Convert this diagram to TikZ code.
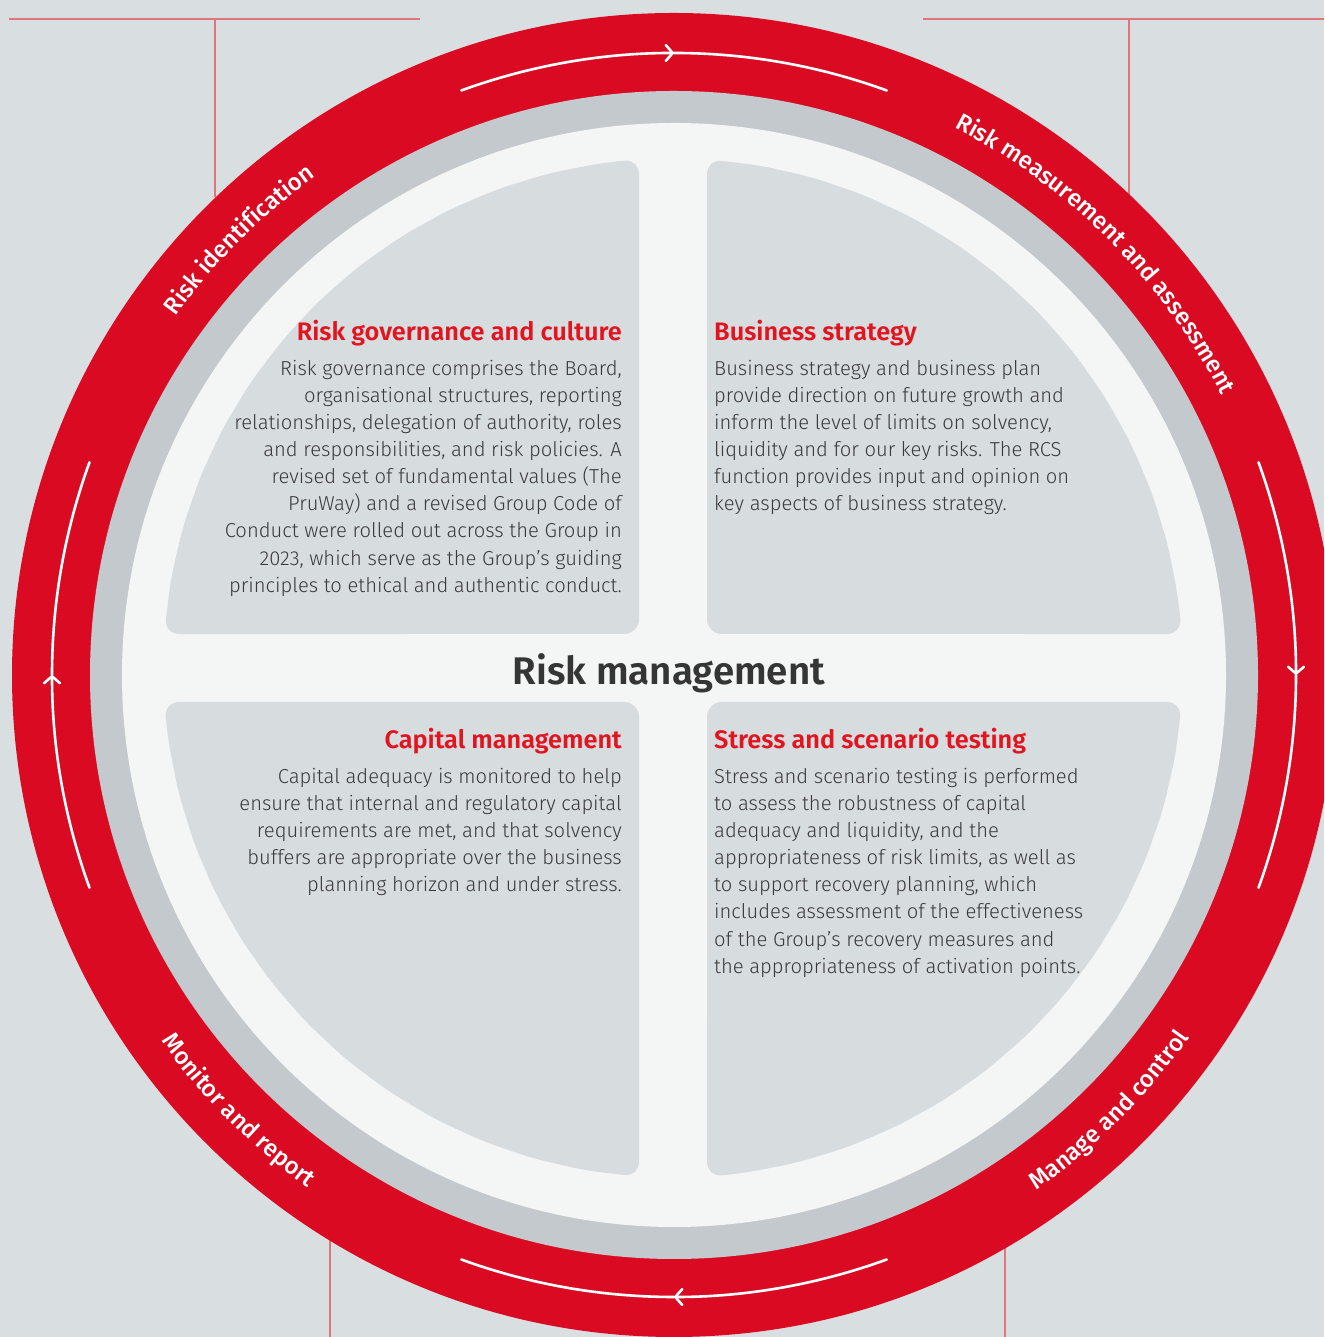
\documentclass[tikz,border=0pt]{standalone}
\usepackage{fontspec}
\setmainfont{Fira Sans Light}[BoldFont={Fira Sans SemiBold}]
\newfontfamily\ringfont{Fira Sans Medium}
\usetikzlibrary{arrows.meta,decorations.text}
\definecolor{bgc}{HTML}{D9DEE1}
\definecolor{ringred}{HTML}{D90A21}
\definecolor{bandgrey}{HTML}{C3C9CC}
\definecolor{diskwhite}{HTML}{F4F5F5}
\definecolor{boxgrey}{HTML}{D7DCDF}
\definecolor{headred}{HTML}{E2141F}
\definecolor{bodygrey}{HTML}{3A3A3A}
\definecolor{titlegrey}{HTML}{353535}
\definecolor{linered}{HTML}{E0767B}
\newcommand\ringfmt{\ringfont\fontsize{24}{24}\selectfont\color{white}}
\begin{document}
\begin{tikzpicture}[x=1pt,y=1pt,
  thinred/.style={draw=linered,line width=2pt},
  cyclearrow/.style={draw=white,line width=2.6pt,line cap=round},
  tipped/.style={cyclearrow,-{Straight Barb[length=7pt,width=16pt,round]}},
  head/.style={font=\fontsize{25.3}{29}\selectfont\bfseries,text=headred,inner sep=0pt},
  body/.style={font=\fontsize{20.2}{27.1}\selectfont,text=bodygrey,inner sep=0pt},
  title/.style={font=\fontsize{38.5}{42}\selectfont\bfseries,text=titlegrey,inner sep=0pt},
  ringlabel/.style={decorate,decoration={text along path,text align=center,text={|\ringfmt|#1}}}]
\clip (0,0) rectangle (1324,1337);
\fill[bgc] (0,0) rectangle (1324,1337);
% thin red lines
\coordinate (tl1) at (9,1318);
\coordinate (tl2) at (420,1318);
\coordinate (tl3) at (215,1318);
\coordinate (tl4) at (215,1140);
\coordinate (tr1) at (923,1318);
\coordinate (tr2) at (1324,1318);
\coordinate (tr3) at (1129,1318);
\coordinate (tr4) at (1129,1140);
\coordinate (bl1) at (330,0);
\coordinate (bl2) at (330,110);
\coordinate (br1) at (1005,0);
\coordinate (br2) at (1005,110);
\draw[thinred] (tl1) -- (tl2);
\draw[thinred] (tl3) -- (tl4);
\draw[thinred] (tr1) -- (tr2);
\draw[thinred] (tr3) -- (tr4);
\draw[thinred] (bl1) -- (bl2);
\draw[thinred] (br1) -- (br2);
% ring
\coordinate (C) at (674,662);
\fill[ringred] (C) circle (662pt);
\fill[bandgrey] (C) circle (584pt);
\fill[diskwhite] (C) circle (552pt);
% quadrant boxes
\begin{scope}[shift={(673,669)}]
\foreach \r in {0,90,180,270}{
  \fill[boxgrey,rotate=\r,rounded corners=15pt]
    (-34pt,200pt) -- (-34pt,34pt) -- (176.18:510pt)
    \foreach \a in {170,164,...,98}{ -- (\a:510pt) }
    -- (93.82:510pt) -- cycle;
}
\end{scope}
% cycle arrows
\begin{scope}[shift={(674,662)}]
\draw[tipped] (110:622pt) arc (110:90:622pt);
\draw[cyclearrow] (90:622pt) arc (90:70:622pt);
\draw[tipped] (20:622pt) arc (20:0:622pt);
\draw[cyclearrow] (0:622pt) arc (0:-20:622pt);
\draw[tipped] (-70:622pt) arc (-70:-90:622pt);
\draw[cyclearrow] (-90:622pt) arc (-90:-110:622pt);
\draw[tipped] (200:622pt) arc (200:180:622pt);
\draw[cyclearrow] (180:622pt) arc (180:160:622pt);
% ring labels
\path[ringlabel={Risk identification}] (160:614pt) arc (160:110:614pt);
\path[ringlabel={Risk measurement and assessment}] (85:615pt) arc (85:5:615pt);
\path[ringlabel={Manage and control}] (-75:630pt) arc (-75:-15:630pt);
\path[ringlabel={Monitor and report}] (195:630pt) arc (195:255:630pt);
\end{scope}
% texts
\node[head,anchor=base east] (h1) at (622,996) {Risk governance and culture};
\node[body,align=right,anchor=north east] (b1) at (622,977) {Risk governance comprises the Board,\\organisational structures, reporting\\relationships, delegation of authority, roles\\and responsibilities, and risk policies. A\\revised set of fundamental values (The\\PruWay) and a revised Group Code of\\Conduct were rolled out across the Group in\\2023, which serve as the Group’s guiding\\principles to ethical and authentic conduct.};
\node[head,anchor=base west] (h2) at (714,996) {Business strategy};
\node[body,align=left,anchor=north west] (b2) at (714,977) {Business strategy and business plan\\provide direction on future growth and\\inform the level of limits on solvency,\\liquidity and for our key risks. The RCS\\function provides input and opinion on\\key aspects of business strategy.};
\node[title,anchor=base] (rm) at (669,652) {Risk management};
\node[head,anchor=base east] (h3) at (622,588) {Capital management};
\node[body,align=right,anchor=north east] (b3) at (622,569) {Capital adequacy is monitored to help\\ensure that internal and regulatory capital\\requirements are met, and that solvency\\buffers are appropriate over the business\\planning horizon and under stress.};
\node[head,anchor=base west] (h4) at (714,588) {Stress and scenario testing};
\node[body,align=left,anchor=north west] (b4) at (714,569) {Stress and scenario testing is performed\\to assess the robustness of capital\\adequacy and liquidity, and the\\appropriateness of risk limits, as well as\\to support recovery planning, which\\includes assessment of the effectiveness\\of the Group's recovery measures and\\the appropriateness of activation points.};
\end{tikzpicture}
\end{document}
